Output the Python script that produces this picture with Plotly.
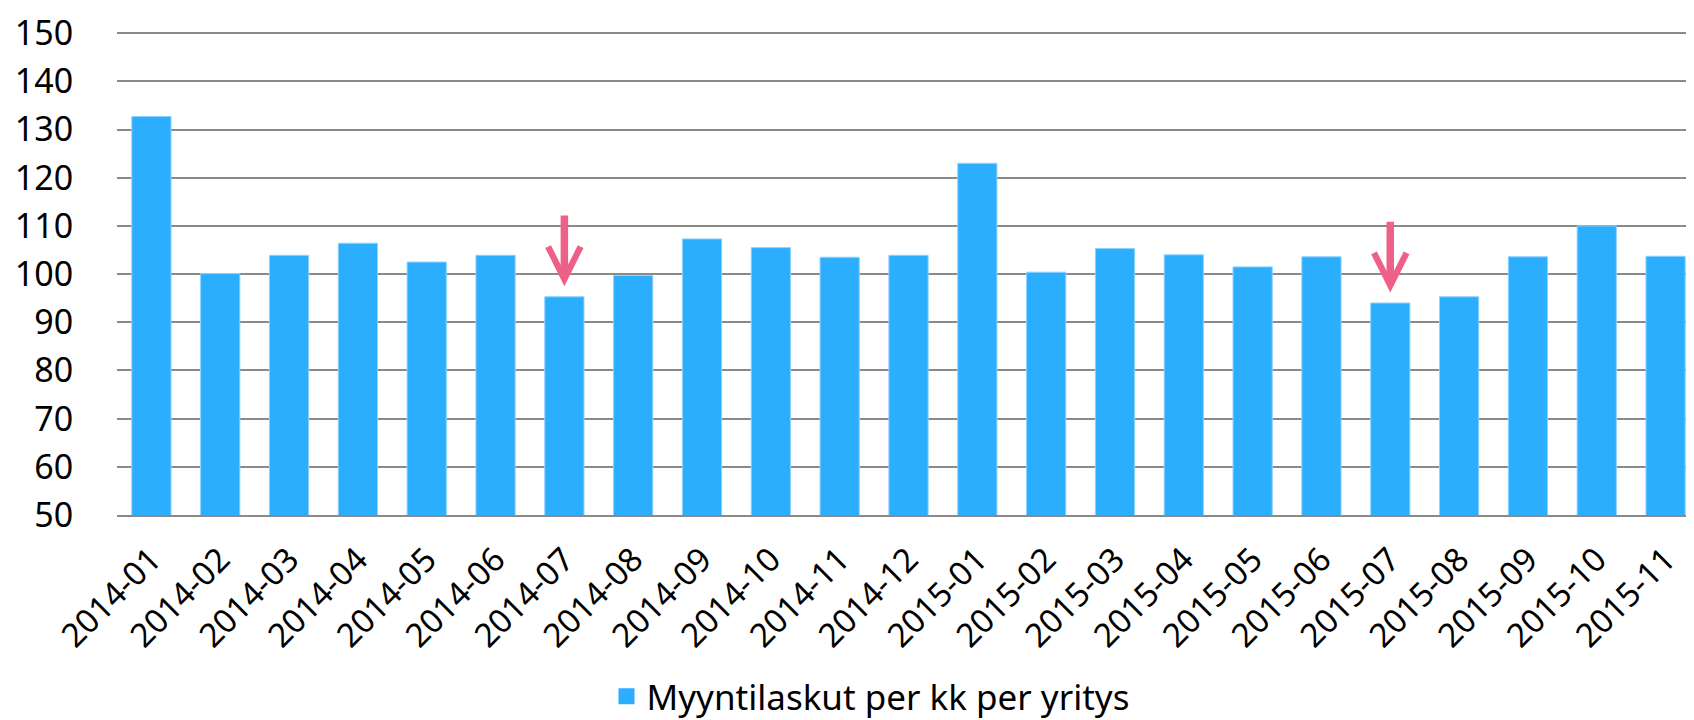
import plotly.graph_objects as go

months = ["2014-01", "2014-02", "2014-03", "2014-04", "2014-05", "2014-06",
          "2014-07", "2014-08", "2014-09", "2014-10", "2014-11", "2014-12",
          "2015-01", "2015-02", "2015-03", "2015-04", "2015-05", "2015-06",
          "2015-07", "2015-08", "2015-09", "2015-10", "2015-11"]
values = [132.7, 100.1, 103.9, 106.4, 102.5, 103.9,
          95.3, 99.7, 107.3, 105.5, 103.5, 103.9,
          123.0, 100.4, 105.3, 104.0, 101.5, 103.6,
          94.0, 95.3, 103.6, 110.0, 103.7]
series_name = "Myyntilaskut per kk per yritys"
arrow_months = ["2014-07", "2015-07"]

bar_color = "#2CAEFF"
font_family = "Noto Sans, Open Sans, sans-serif"

fig = go.Figure()
fig.add_trace(go.Bar(
    x=months, y=values, name=series_name, showlegend=False,
    legendgroup="s",
    marker=dict(color=bar_color, line=dict(color="#8fd2ff", width=1)),
))
# legend entry with a larger square
fig.add_trace(go.Scatter(
    x=[None], y=[None], mode="markers", name=series_name, legendgroup="s",
    marker=dict(symbol="square", size=16, color=bar_color),
))

for m in arrow_months:
    v = values[months.index(m)]
    fig.add_annotation(
        x=m, y=v + 2.2, ax=m, ay=v + 17.2, xref="x", yref="y",
        axref="x", ayref="y", text="", showarrow=True,
        arrowhead=5, arrowsize=0.85, arrowwidth=7.5, arrowcolor="#EE6087",
    )

fig.update_layout(
    width=1694, height=720,
    margin=dict(l=109, r=2, t=24, b=207),
    paper_bgcolor="white", plot_bgcolor="white",
    font=dict(family=font_family, size=34, color="black"),
    bargap=0.43,
    showlegend=True,
    legend=dict(orientation="h", x=0.476, xanchor="center", y=-0.376,
                yanchor="middle", font=dict(size=35), itemwidth=30,
                bgcolor="rgba(0,0,0,0)"),
)
fig.update_yaxes(
    range=[50, 150.25], dtick=10, tick0=50, showgrid=True,
    gridcolor="#8a8a8a", gridwidth=2, zeroline=False,
    ticks="outside", ticklen=0, ticklabelstandoff=36,
    tickfont=dict(size=34), showline=False,
)
fig.update_xaxes(
    type="category", categoryorder="array", categoryarray=months,
    tickangle=-45, tickfont=dict(size=33), showline=True,
    linecolor="#8a8a8a", linewidth=2, ticks="", showgrid=False,
    ticklabelstandoff=10,
)

fig.write_html("out.html")
